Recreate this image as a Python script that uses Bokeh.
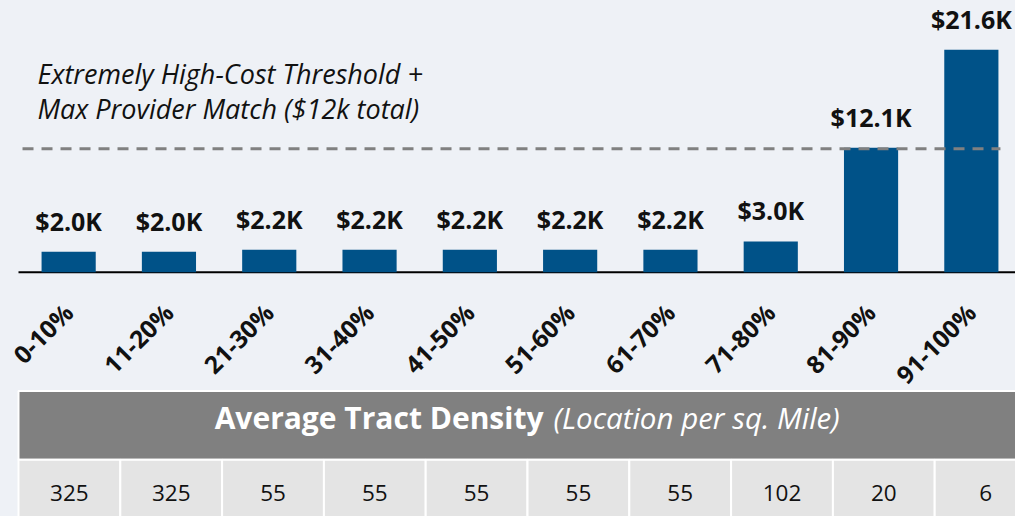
import math
from bokeh.plotting import figure
from bokeh.models import Range1d
from bokeh.core.properties import value
from bokeh.embed import file_html
from bokeh.resources import INLINE

# ---------------- data ----------------
categories = ["0-10%", "11-20%", "21-30%", "31-40%", "41-50%",
              "51-60%", "61-70%", "71-80%", "81-90%", "91-100%"]
costs_k = [2.0, 2.0, 2.2, 2.2, 2.2, 2.2, 2.2, 3.0, 12.1, 21.6]
densities = [325, 325, 55, 55, 55, 55, 55, 102, 20, 6]
threshold_k = 12.0
threshold_text = ["Extremely High-Cost Threshold +", "Max Provider Match ($12k total)"]
table_title = "Average Tract Density"
table_subtitle = "(Location per sq. Mile)"

# ---------------- style ----------------
BG = "#EEF1F6"
BAR = "#005288"
GREY = "#808080"
CELL = "#E4E4E4"
INK = "#111111"
FONT = value("Open Sans")

W, H = 1015, 516
band_px = 100.3          # pixel width of one category band
cell_px = 101.8          # pixel width of one table cell
left_px = 18             # left edge of first band / table
base_px = 271.8          # baseline (value 0) from top
k_px = 10.3              # pixels per $1K

n = len(categories)
idx = list(range(n))
cost_labels = ["${:.1f}K".format(v) for v in costs_k]

p = figure(width=W, height=H, output_backend="svg", toolbar_location=None,
           x_axis_location=None, y_axis_location=None,
           x_range=Range1d(-0.5 - left_px / band_px, -0.5 + (W - left_px) / band_px),
           y_range=Range1d(-(H - base_px) / k_px, base_px / k_px),
           min_border=0, background_fill_color=BG, border_fill_color=BG,
           outline_line_color=None)
p.grid.visible = False
p.extra_x_ranges = {"tbl": Range1d(-left_px / cell_px, (W - left_px) / cell_px),
                    "px": Range1d(0, W)}
p.extra_y_ranges = {"px": Range1d(H, 0)}

# baseline
p.segment(x0=[-0.5], y0=[0], x1=[-0.5 + W / band_px], y1=[0],
          line_color="black", line_width=2)

# bars
p.vbar(x=idx, top=costs_k, bottom=0, width=0.54, fill_color=BAR, line_color=None)

# threshold dashed line
p.segment(x0=[-0.46], y0=[threshold_k], x1=[9.29], y1=[threshold_k],
          line_color=GREY, line_width=3, line_dash="11 8")

# bar value labels
p.text(x=idx, y=costs_k, text=cost_labels, text_align="center",
       text_baseline="alphabetic", y_offset=-31, text_font=FONT,
       text_font_style="bold", text_font_size="25px", text_color=INK)

# category labels (rotated)
p.text(x=idx, y=[0] * n, text=categories, angle=math.pi / 4,
       text_align="right", text_baseline="top", x_offset=-12, y_offset=24,
       text_font=FONT, text_font_style="bold", text_font_size="24.5px",
       text_color=INK)

# threshold annotation
p.text(x=[37, 37], y=[73, 107.5], text=threshold_text,
       x_range_name="px", y_range_name="px", text_align="left",
       text_baseline="alphabetic", text_font=FONT, text_font_style="italic",
       text_font_size="27px", text_color=INK)

# table header
p.quad(left=[0], right=[n], top=[390.5], bottom=[459.3],
       x_range_name="tbl", y_range_name="px",
       fill_color=GREY, line_color="white", line_width=2)
p.text(x=[n / 2], y=[416.5], text=[table_title], x_offset=16,
       x_range_name="tbl", y_range_name="px", text_align="right",
       text_baseline="alphabetic", text_font=FONT, text_font_style="bold",
       text_font_size="30px", text_color="white")
p.text(x=[n / 2], y=[416.5], text=[table_subtitle], x_offset=26,
       x_range_name="tbl", y_range_name="px", text_align="left",
       text_baseline="alphabetic", text_font=FONT, text_font_style="italic",
       text_font_size="29.5px", text_color="white")

# table cells
p.quad(left=idx, right=[i + 1 for i in idx], top=[459.3] * n, bottom=[530] * n,
       x_range_name="tbl", y_range_name="px",
       fill_color=CELL, line_color="white", line_width=2)
p.text(x=[i + 0.5 for i in idx], y=[492] * n, text=[str(d) for d in densities],
       x_range_name="tbl", y_range_name="px", text_align="center",
       text_baseline="alphabetic", text_font=FONT, text_font_size="22.5px",
       text_color=INK)

html = file_html(p, INLINE, title="Tract density cost chart")
html = html.replace("</head>", "<style>body{background-color:%s;}</style></head>" % BG, 1)
open("out.html", "w").write(html)
